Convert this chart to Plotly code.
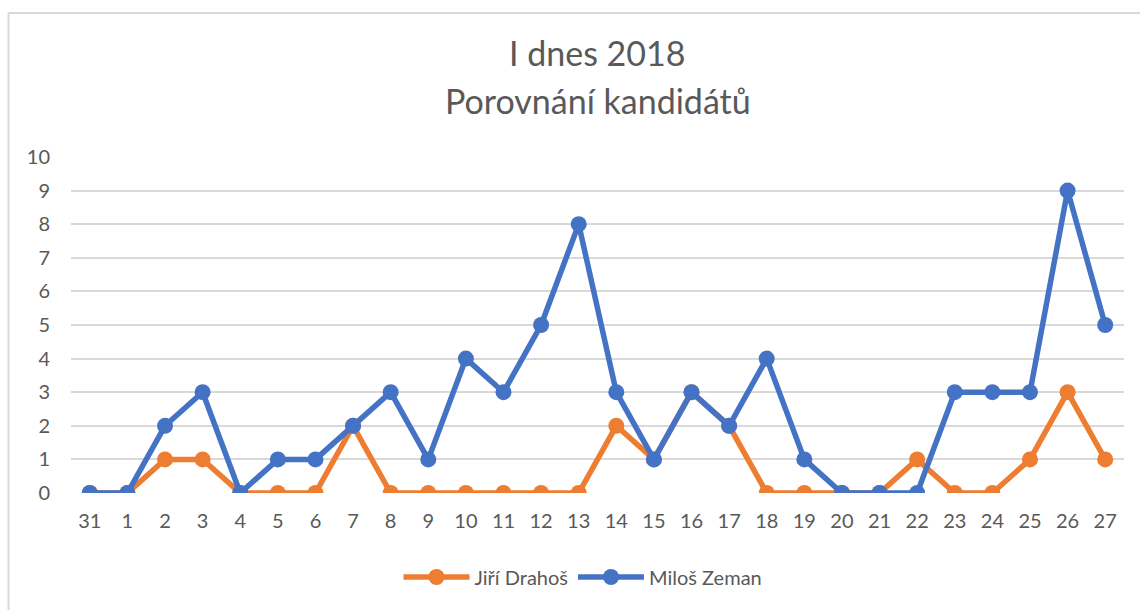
import plotly.graph_objects as go

days = ["31", "1", "2", "3", "4", "5", "6", "7", "8", "9", "10", "11", "12", "13",
        "14", "15", "16", "17", "18", "19", "20", "21", "22", "23", "24", "25", "26", "27"]
drahos = [0, 0, 1, 1, 0, 0, 0, 2, 0, 0, 0, 0, 0, 0, 2, 1, 3, 2, 0, 0, 0, 0, 1, 0, 0, 1, 3, 1]
zeman = [0, 0, 2, 3, 0, 1, 1, 2, 3, 1, 4, 3, 5, 8, 3, 1, 3, 2, 4, 1, 0, 0, 0, 3, 3, 3, 9, 5]

FONT = "Lato"
GRAY = "#595959"

fig = go.Figure()
fig.add_trace(go.Scatter(x=days, y=drahos, name="Jiří Drahoš", mode="lines+markers",
                         line=dict(color="#ED7D31", width=5.5),
                         marker=dict(size=16, color="#ED7D31")))
fig.add_trace(go.Scatter(x=days, y=zeman, name="Miloš Zeman", mode="lines+markers",
                         line=dict(color="#4472C4", width=5.5),
                         marker=dict(size=16, color="#4472C4")))

L, R, T, B = 71, 16, 157, 117
W, H = 1140, 610
pw, ph = W - L - R, H - T - B

def px(x):
    return (x - L) / pw

def py(y):
    return (H - B - y) / ph

fig.update_layout(
    width=W, height=H, autosize=False,
    margin=dict(l=L, r=R, t=T, b=B),
    paper_bgcolor="white", plot_bgcolor="white",
    font=dict(family=FONT, color=GRAY, size=20),
    showlegend=True,
    legend=dict(orientation="h", x=px(583), xanchor="center", y=py(577), yanchor="middle",
                font=dict(size=20, color=GRAY), itemwidth=66),
    xaxis=dict(type="category", range=[-0.5, 27.5], showgrid=False, zeroline=False,
               showline=False, ticks="", tickfont=dict(size=20, color=GRAY),
               ticklabelstandoff=14, fixedrange=True),
    yaxis=dict(range=[0, 10], dtick=1, showgrid=True, gridcolor="#D9D9D9", gridwidth=1.5,
               zeroline=False, showline=False, ticks="", tickfont=dict(size=20, color=GRAY),
               ticklabelstandoff=20, fixedrange=True),
    annotations=[
        dict(text="I dnes 2018", x=0.5, y=py(52), xref="paper", yref="paper",
             xanchor="center", yanchor="middle", showarrow=False,
             font=dict(size=34, color=GRAY, family=FONT)),
        dict(text="Porovnání kandidátů", x=0.5, y=py(101), xref="paper", yref="paper",
             xanchor="center", yanchor="middle", showarrow=False,
             font=dict(size=34, color=GRAY, family=FONT)),
    ],
    shapes=[
        dict(type="line", xref="paper", yref="paper", x0=px(8.5), x1=px(1145),
             y0=py(13), y1=py(13), line=dict(color="#D9D9D9", width=2)),
        dict(type="line", xref="paper", yref="paper", x0=px(8.5), x1=px(8.5),
             y0=py(13), y1=py(615), line=dict(color="#D9D9D9", width=2)),
    ],
)

fig.write_html("out.html", config={"displayModeBar": False},
               post_script="document.body.style.margin='0';document.body.style.overflow='hidden';")
